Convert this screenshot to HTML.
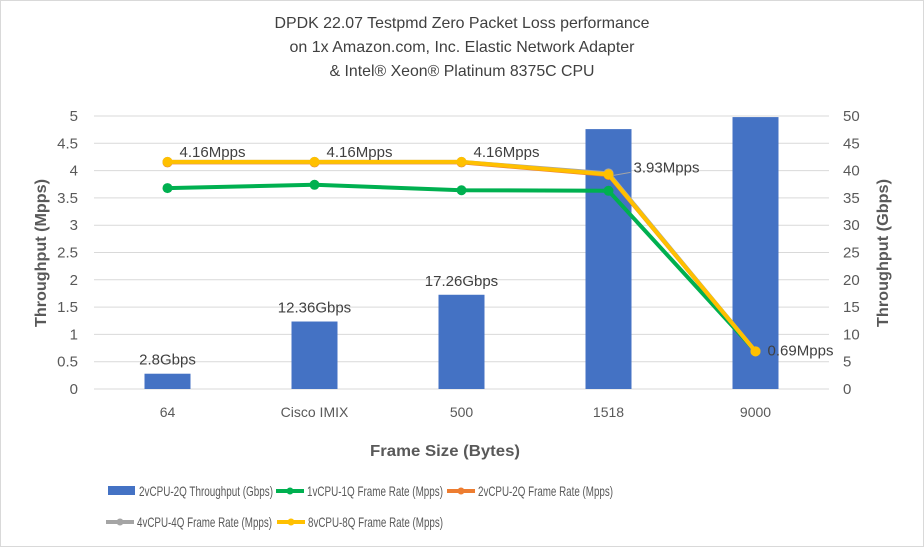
<!DOCTYPE html>
<html><head><meta charset="utf-8"><style>
html,body{margin:0;padding:0;background:#fff;}
svg{display:block;font-family:"Liberation Sans",sans-serif;}
</style></head><body>
<svg id="chart" width="924" height="547">
<rect x="0.5" y="0.5" width="923" height="546" fill="#fff" stroke="#d9d9d9"/>
<g fill="#404040" font-size="16" text-anchor="middle">
<text x="462" y="28" textLength="375" lengthAdjust="spacingAndGlyphs">DPDK 22.07 Testpmd Zero Packet Loss performance</text>
<text x="462" y="52" textLength="345" lengthAdjust="spacingAndGlyphs">on 1x Amazon.com, Inc. Elastic Network Adapter</text>
<text x="462" y="76" textLength="265" lengthAdjust="spacingAndGlyphs">&amp; Intel® Xeon® Platinum 8375C CPU</text>
</g>
<g id="grid"></g><g id="bars"></g><g id="lines"></g><g id="labels"></g><g id="axes"></g>
<text transform="translate(46,253) rotate(-90)" text-anchor="middle" font-size="16" font-weight="bold" fill="#595959" textLength="148" lengthAdjust="spacingAndGlyphs">Throughput (Mpps)</text>
<text transform="translate(888,253) rotate(-90)" text-anchor="middle" font-size="16" font-weight="bold" fill="#595959" textLength="148" lengthAdjust="spacingAndGlyphs">Throughput (Gbps)</text>
<text x="445" y="456" text-anchor="middle" font-size="16" font-weight="bold" fill="#595959" textLength="150" lengthAdjust="spacingAndGlyphs">Frame Size (Bytes)</text>
<g id="legend" font-size="14" fill="#595959"></g>
</svg>
<script>
const categories=["64","Cisco IMIX","500","1518","9000"];
const gbps=[2.8,12.36,17.26,47.6,49.8];
const gbpsLabels=["2.8Gbps","12.36Gbps","17.26Gbps","",""];
const s1=[3.68,3.74,3.64,3.63,0.69];
const s2=[4.15,4.15,4.15,3.92,0.69];
const s4=[4.16,4.16,4.16,3.95,0.69];
const s8=[4.16,4.16,4.16,3.93,0.69];
const mppsLabels=["4.16Mpps","4.16Mpps","4.16Mpps","3.93Mpps","0.69Mpps"];
const leftTicks=[0,0.5,1,1.5,2,2.5,3,3.5,4,4.5,5];
const rightTicks=[0,5,10,15,20,25,30,35,40,45,50];
const NS="http://www.w3.org/2000/svg";
const X0=94,X1=829,Y0=389,Y1=116;
const band=(X1-X0)/categories.length;
const xc=i=>X0+band*(i+0.5);
const yL=v=>Y0-(v/5)*(Y0-Y1);
const yR=v=>Y0-(v/50)*(Y0-Y1);
function mk(tag,attrs,parent,txt){const e=document.createElementNS(NS,tag);for(const k in attrs)e.setAttribute(k,attrs[k]);if(txt!==undefined)e.textContent=txt;document.getElementById(parent).appendChild(e);return e;}
leftTicks.forEach((t,i)=>{
  const g=mk("line",{x1:X0,x2:X1,y1:yL(t),y2:yL(t),stroke:"#d9d9d9","stroke-width":1},"grid");
  
  
  const a=mk("text",{x:78,y:yL(t)+5,"text-anchor":"end","font-size":15,fill:"#595959"},"axes",String(t));
  
  
});
rightTicks.forEach(t=>{
  const a=mk("text",{x:843,y:yR(t)+5,"text-anchor":"start","font-size":15,fill:"#595959"},"axes",String(t));
  
  
});
categories.forEach((c,i)=>{
  const a=mk("text",{x:xc(i),y:417,"text-anchor":"middle","font-size":14,fill:"#595959"},"axes",c);
  
  
});
gbps.forEach((v,i)=>{
  const b=mk("rect",{x:xc(i)-23,y:yR(v),width:46,height:Y0-yR(v),fill:"#4472c4"},"bars");
  
  
  if(gbpsLabels[i]){
    const t=mk("text",{x:xc(i),y:yR(v)-9,"text-anchor":"middle","font-size":15,fill:"#404040"},"labels",gbpsLabels[i]);
    
    
  }
});
function series(vals,color,w,name){
  const p=mk("polyline",{points:vals.map((v,i)=>xc(i)+","+yL(v)).join(" "),fill:"none",stroke:color,"stroke-width":w,"stroke-linejoin":"round"},"lines");
  
  
  vals.forEach((v,i)=>{
    const c=mk("circle",{cx:xc(i),cy:yL(v),r:5,fill:color},"lines");
    
    
  });
}
series(s1,"#00b050",4,"1vcpu-1q");
series(s2,"#ed7d31",4,"2vcpu-2q");
series(s4,"#a5a5a5",4,"4vcpu-4q");
series(s8,"#ffc000",4,"8vcpu-8q");
const lblOff=[[12,-5],[12,-5],[12,-5],[25,-2],[12,4]];
mppsLabels.forEach((l,i)=>{
  if(i===3){const ln=mk("line",{x1:xc(i)+5,y1:yL(s8[i])+1,x2:xc(i)+22,y2:yL(s8[i])-2,stroke:"#a5a5a5"},"labels");
    
    }
  const t=mk("text",{x:xc(i)+lblOff[i][0],y:yL(s8[i])+lblOff[i][1],"font-size":15,fill:"#404040",textLength:66,lengthAdjust:"spacingAndGlyphs"},"labels",l);
  
  
});
const legendItems=[["2vCPU-2Q Throughput (Gbps)","#4472c4","bar",108,491,134],["1vCPU-1Q Frame Rate (Mpps)","#00b050","line",276,491,136],["2vCPU-2Q Frame Rate (Mpps)","#ed7d31","line",447,491,135],["4vCPU-4Q Frame Rate (Mpps)","#a5a5a5","line",106,522,135],["8vCPU-8Q Frame Rate (Mpps)","#ffc000","line",277,522,135]];
legendItems.forEach(([n,c,k,x,y,w])=>{
  const g=mk("g",{},"legend");
  
  
  if(k==="bar"){const r=document.createElementNS(NS,"rect");r.setAttribute("x",x);r.setAttribute("y",y-5);r.setAttribute("width",27);r.setAttribute("height",9);r.setAttribute("fill",c);g.appendChild(r);}
  else{const l=document.createElementNS(NS,"line");l.setAttribute("x1",x);l.setAttribute("x2",x+28);l.setAttribute("y1",y);l.setAttribute("y2",y);l.setAttribute("stroke",c);l.setAttribute("stroke-width",4);g.appendChild(l);
    const ci=document.createElementNS(NS,"circle");ci.setAttribute("cx",x+14);ci.setAttribute("cy",y);ci.setAttribute("r",3.5);ci.setAttribute("fill",c);g.appendChild(ci);}
  const t=document.createElementNS(NS,"text");t.setAttribute("x",x+31);t.setAttribute("y",y+5);t.setAttribute("textLength",w);t.setAttribute("lengthAdjust","spacingAndGlyphs");t.textContent=n;g.appendChild(t);
});
</script>
</body></html>
